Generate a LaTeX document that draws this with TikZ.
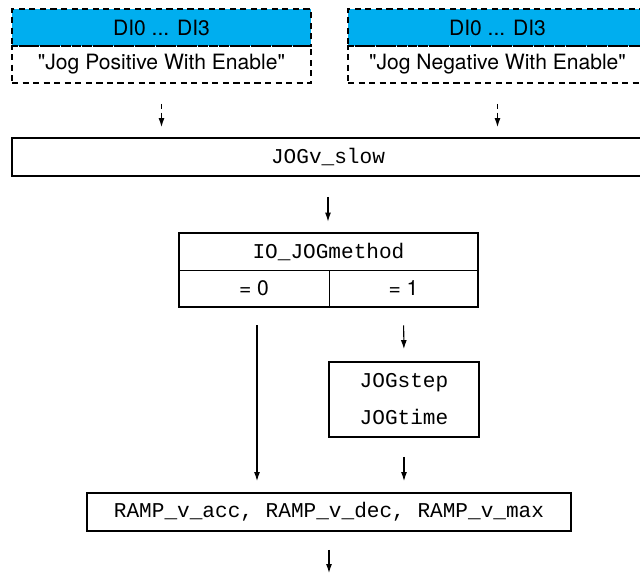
\documentclass[tikz,border=0pt]{standalone}
\usepackage{fontspec}
\newfontfamily\heros{TeX Gyre Heros}
\setmonofont{Liberation Mono}
\usetikzlibrary{arrows.meta}
\definecolor{diblue}{RGB}{0,174,239}
\tikzset{
  box/.style={draw, line width=1.1pt, inner sep=0pt, font=\fontsize{12}{21}\selectfont\ttfamily},
  dibox/.style={draw, line width=1pt, dash pattern=on 3.5pt off 2.5pt, inner sep=0pt,
    minimum width=5.98cm, minimum height=0.74cm, font=\fontsize{12}{14}\selectfont\heros},
  cell/.style={draw, line width=0.5pt, inner sep=0pt, minimum height=0.74cm},
  flow/.style={-{Latex[length=1.8mm,width=1.2mm]}, line width=0.6pt},
}
\begin{document}
\begin{tikzpicture}[x=0.02cm, y=-0.02cm]
  \useasboundingbox (0,0) rectangle (640,574);
  % digital inputs
  \node[dibox, fill=diblue] (posdi) at (161.5,27.5) {DI0 ... DI3};
  \node[dibox] (posfn) at (161.5,64.5) {"Jog Positive With Enable"};
  \node[dibox, fill=diblue] (negdi) at (497.5,27.5) {DI0 ... DI3};
  \node[dibox] (negfn) at (497.5,64.5) {"Jog Negative With Enable"};
  % parameters
  \node[box, minimum width=12.64cm, minimum height=0.76cm] (slow) at (328,157) {JOGv\_slow};
  \node[cell, minimum width=5.98cm, font=\fontsize{12}{14}\selectfont\ttfamily] (method) at (328.5,251.5) {IO\_JOGmethod};
  \node[cell, minimum width=3.0cm, font=\fontsize{12}{14}\selectfont\heros] (zero) at (254,288.5) {= 0};
  \node[cell, minimum width=2.98cm, font=\fontsize{12}{14}\selectfont\heros] (one) at (403.5,288.5) {= 1};
  \draw[line width=1.1pt] (method.north west) rectangle (one.south east);
  \node[box, minimum width=3cm, minimum height=1.5cm, align=center] (step) at (404,399.5) {JOGstep\\JOGtime};
  \node[box, minimum width=9.68cm, minimum height=0.76cm] (ramp) at (329,512) {RAMP\_v\_acc, RAMP\_v\_dec, RAMP\_v\_max};
  \coordinate (out) at (329,573);
  % connections
  \draw[flow, dash pattern=on 3pt off 2pt, shorten <=0.4cm, shorten >=0.2cm] (posfn.south) -- (posfn.south |- slow.north);
  \draw[flow, dash pattern=on 3pt off 2pt, shorten <=0.4cm, shorten >=0.2cm] (negfn.south) -- (negfn.south |- slow.north);
  \draw[flow, shorten <=0.4cm, shorten >=0.22cm] (slow.south) -- (slow.south |- method.north);
  \draw[flow, shorten <=0.36cm, shorten >=0.22cm] ([xshift=0.06cm]zero.south) -- ([xshift=0.06cm]zero.south |- ramp.north);
  \draw[flow, shorten <=0.36cm, shorten >=0.24cm] (one.south) -- (step.north);
  \draw[flow, shorten <=0.38cm, shorten >=0.22cm] (step.south) -- (step.south |- ramp.north);
  \draw[flow, shorten <=0.36cm] (ramp.south) -- (out);
\end{tikzpicture}
\end{document}
